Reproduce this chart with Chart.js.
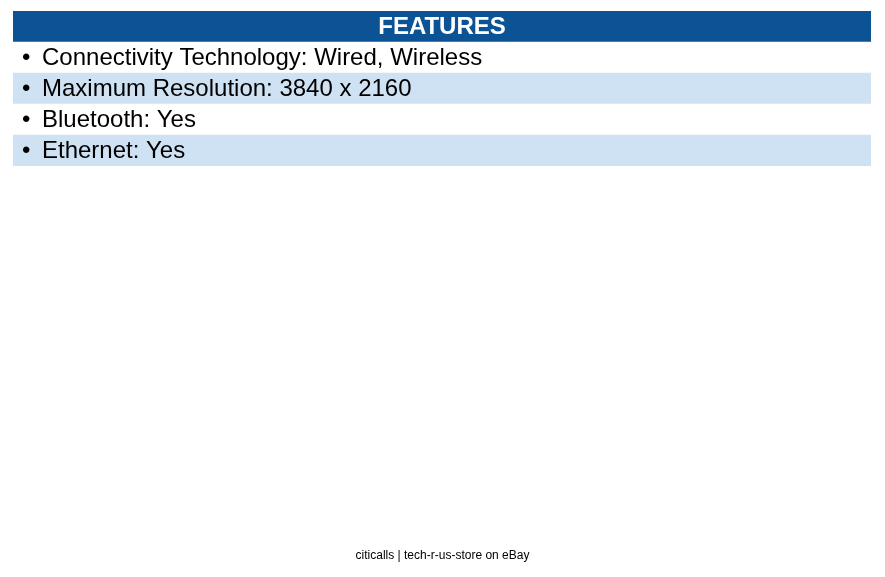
<!DOCTYPE html>
<html>
<head>
<meta charset="utf-8">
<script src="https://cdn.jsdelivr.net/npm/chart.js@4"></script>
<style>
  html, body { margin: 0; padding: 0; background: #ffffff; }
  #wrap { width: 885px; height: 577px; position: relative; }
</style>
</head>
<body>
<div id="wrap"><canvas id="featChart"></canvas></div>
<script>
// Table rows (header first, then features)
const rowLabels = ["FEATURES", "Connectivity Technology: Wired, Wireless", "Maximum Resolution: 3840 x 2160", "Bluetooth: Yes", "Ethernet: Yes"];
const rowValues = [1, 1, 1, 1, 1];
const rowColors = ["#0b5394", "#ffffff", "#cfe2f3", "#ffffff", "#cfe2f3"];
const footerText = "citicalls | tech-r-us-store on eBay";

const FONT = "'Liberation Sans', Arial, sans-serif";

// Draws the row texts on top of the full-width bars
const rowTextPlugin = {
    id: "rowText",
    afterDatasetsDraw(chart) {
        const ctx = chart.ctx;
        const meta = chart.getDatasetMeta(0);
        const area = chart.chartArea;
        ctx.save();
        ctx.textBaseline = "middle";
        meta.data.forEach((bar, i) => {
            const y = bar.y + 1;
            if (i === 0) {
                ctx.font = "bold 24px " + FONT;
                ctx.fillStyle = "#ffffff";
                ctx.textAlign = "center";
                ctx.fillText(rowLabels[i], (area.left + area.right) / 2, y);
            } else {
                ctx.font = "24px " + FONT;
                ctx.fillStyle = "#000000";
                ctx.textAlign = "left";
                ctx.fillText("\u2022", area.left + 9, y);
                ctx.fillText(rowLabels[i], area.left + 29, y);
            }
        });
        ctx.font = "12px " + FONT;
        ctx.fillStyle = "#000000";
        ctx.textAlign = "center";
        ctx.fillText(footerText, chart.width / 2, 556);
        ctx.restore();
    }
};

new Chart(document.getElementById("featChart"), {
    type: "bar",
    data: {
        labels: rowLabels,
        datasets: [{ data: rowValues, backgroundColor: rowColors, barPercentage: 1, categoryPercentage: 1, borderWidth: 0 }]
    },
    options: {
        indexAxis: "y",
        responsive: true,
        maintainAspectRatio: false,
        animation: false,
        layout: { padding: { left: 13, right: 14, top: 11, bottom: 411 } },
        plugins: { legend: { display: false }, tooltip: { enabled: false } },
        scales: {
            x: { display: false, min: 0, max: 1 },
            y: { display: false }
        }
    },
    plugins: [rowTextPlugin]
});
</script>
</body>
</html>
